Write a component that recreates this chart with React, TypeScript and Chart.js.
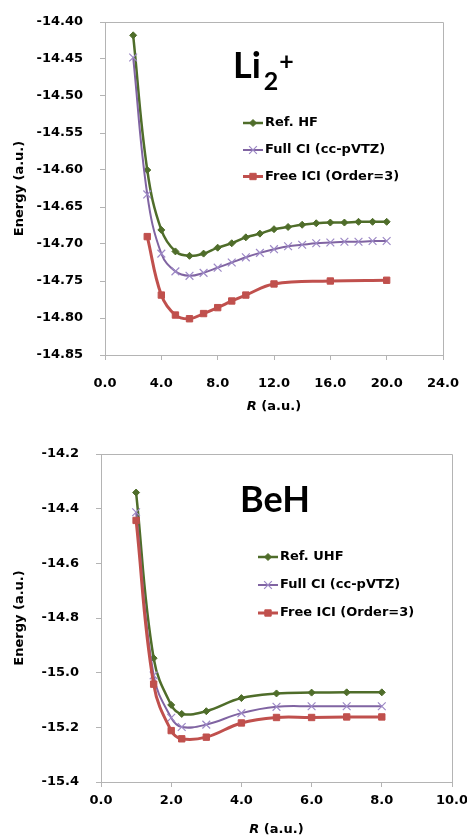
import React, { useEffect, useRef } from 'react';
import { Chart, registerables } from 'chart.js';

Chart.register(...registerables);

// ---------- Li2+ data ----------
const liR = [2, 3, 4, 5, 6, 7, 8, 9, 10, 11, 12, 13, 14, 15, 16, 17, 18, 19, 20];
const liRefHF = [-14.418, -14.600, -14.681, -14.710, -14.716, -14.713, -14.705, -14.699, -14.691, -14.686, -14.680, -14.677, -14.674, -14.672, -14.671, -14.671, -14.670, -14.670, -14.670];
const liFullCI = [-14.448, -14.633, -14.713, -14.737, -14.743, -14.739, -14.732, -14.725, -14.718, -14.712, -14.707, -14.703, -14.701, -14.699, -14.698, -14.697, -14.697, -14.696, -14.696];
const liIciR = [3, 4, 5, 6, 7, 8, 9, 10, 12, 16, 20];
const liFreeICI = [-14.690, -14.769, -14.796, -14.801, -14.794, -14.786, -14.777, -14.769, -14.754, -14.750, -14.749];

// ---------- BeH data ----------
const beR = [1.0, 1.5, 2.0, 2.3, 3.0, 4.0, 5.0, 6.0, 7.0, 8.0];
const beRefUHF = [-14.341, -14.947, -15.118, -15.151, -15.141, -15.093, -15.076, -15.073, -15.072, -15.072];
const beFullCI = [-14.413, -15.010, -15.165, -15.199, -15.190, -15.148, -15.125, -15.123, -15.123, -15.123];
const beFreeICI = [-14.443, -15.042, -15.212, -15.242, -15.236, -15.184, -15.164, -15.164, -15.162, -15.162];

// ---------- labels ----------
const liLegend = ['Ref. HF', 'Full CI (cc-pVTZ)', 'Free ICI (Order=3)'];
const beLegend = ['Ref. UHF', 'Full CI (cc-pVTZ)', 'Free ICI (Order=3)'];
const yTitle = 'Energy (a.u.)';
const xTitleItalic = 'R';
const xTitleRest = ' (a.u.)';

const GREEN = '#4f6d2a';
const PURPLE = '#8064a2';
const PURPLE_MK = '#9d89c6';
const RED = '#c0504d';
const AXIS = '#b4b4b4';
const FONT = 'DejaVu Sans';
const TITLE_FONT = 'Lato';

function makeDatasets(rA: number[], a: number[], rB: number[], b: number[], rC: number[], c: number[], names: string[]) {
  const pts = (r: number[], v: number[]) => r.map((x, i) => ({ x, y: v[i] }));
  return [
    {
      label: names[0], data: pts(rA, a), showLine: true, order: 2,
      borderColor: GREEN, borderWidth: 2.5, backgroundColor: GREEN,
      pointStyle: 'rectRot', pointRadius: 3.5, pointBackgroundColor: GREEN, pointBorderColor: GREEN, pointBorderWidth: 1,
      tension: 0.4,
    },
    {
      label: names[1], data: pts(rB, b), showLine: true, order: 1,
      borderColor: PURPLE, borderWidth: 2, backgroundColor: PURPLE,
      pointStyle: 'crossRot', pointRadius: 5.5, pointBackgroundColor: PURPLE_MK, pointBorderColor: PURPLE_MK, pointBorderWidth: 1.2,
      tension: 0.4,
    },
    {
      label: names[2], data: pts(rC, c), showLine: true, order: 0,
      borderColor: RED, borderWidth: 3, backgroundColor: RED,
      pointStyle: 'rect', pointRadius: 4.5, pointBackgroundColor: RED, pointBorderColor: RED, pointBorderWidth: 1,
      tension: 0.4,
    },
  ];
}

function drawMarker(ctx: CanvasRenderingContext2D, ds: any, x: number, y: number) {
  const r = ds.pointRadius;
  ctx.save();
  ctx.fillStyle = ds.pointBackgroundColor;
  ctx.strokeStyle = ds.pointBorderColor;
  ctx.lineWidth = ds.pointBorderWidth;
  ctx.beginPath();
  if (ds.pointStyle === 'rectRot') {
    ctx.moveTo(x, y - r); ctx.lineTo(x + r, y); ctx.lineTo(x, y + r); ctx.lineTo(x - r, y); ctx.closePath();
    ctx.fill(); ctx.stroke();
  } else if (ds.pointStyle === 'rect') {
    const s = r * Math.SQRT1_2;
    ctx.rect(x - s, y - s, 2 * s, 2 * s);
    ctx.fill(); ctx.stroke();
  } else {
    const d = r * Math.SQRT1_2;
    ctx.moveTo(x - d, y - d); ctx.lineTo(x + d, y + d);
    ctx.moveTo(x + d, y - d); ctx.lineTo(x - d, y + d);
    ctx.stroke();
  }
  ctx.restore();
}

const decoPlugin = {
  id: 'deco',
  afterDraw(chart: any, _args: any, opts: any) {
    const { ctx, chartArea: a } = chart;
    ctx.save();
    // plot-area frame (top & right)
    ctx.strokeStyle = AXIS;
    ctx.lineWidth = 1;
    ctx.beginPath();
    ctx.moveTo(Math.round(a.left) + 0.5, Math.round(a.top) + 0.5);
    ctx.lineTo(Math.round(a.right) + 0.5, Math.round(a.top) + 0.5);
    ctx.lineTo(Math.round(a.right) + 0.5, Math.round(a.bottom) + 0.5);
    ctx.stroke();

    // y axis title
    ctx.fillStyle = '#000';
    ctx.save();
    ctx.translate(opts.yTitleX, (a.top + a.bottom) / 2);
    ctx.rotate(-Math.PI / 2);
    ctx.font = `bold 13px "${FONT}"`;
    ctx.textAlign = 'center';
    ctx.textBaseline = 'middle';
    ctx.fillText(yTitle, 0, 0);
    ctx.restore();

    // x axis title with italic R
    ctx.textBaseline = 'middle';
    ctx.textAlign = 'left';
    ctx.font = `italic bold 13px "${FONT}"`;
    const w1 = ctx.measureText(xTitleItalic).width;
    ctx.font = `bold 13px "${FONT}"`;
    const w2 = ctx.measureText(xTitleRest).width;
    const sx = (a.left + a.right) / 2 - (w1 + w2) / 2;
    ctx.font = `italic bold 13px "${FONT}"`;
    ctx.fillText(xTitleItalic, sx, opts.xTitleY);
    ctx.font = `bold 13px "${FONT}"`;
    ctx.fillText(xTitleRest, sx + w1, opts.xTitleY);

    // big molecule label
    ctx.textBaseline = 'alphabetic';
    ctx.textAlign = 'left';
    let x = opts.molX;
    for (const part of opts.molParts) {
      ctx.font = `bold ${part.size}px "${TITLE_FONT}"`;
      x += part.dx || 0;
      ctx.fillText(part.text, x, opts.molY + (part.dy || 0));
      x += ctx.measureText(part.text).width;
    }

    // legend
    const dsets = chart.data.datasets;
    ctx.font = `bold 13px "${FONT}"`;
    ctx.textBaseline = 'middle';
    dsets.forEach((ds: any, i: number) => {
      const y = opts.legY[i];
      ctx.strokeStyle = ds.borderColor;
      ctx.lineWidth = ds.borderWidth;
      ctx.beginPath();
      ctx.moveTo(opts.legX, y);
      ctx.lineTo(opts.legX + 20, y);
      ctx.stroke();
      drawMarker(ctx, ds, opts.legX + 10, y);
      ctx.fillStyle = '#000';
      ctx.fillText(ds.label, opts.legX + 22, y);
    });
    ctx.restore();
  },
};

type PanelProps = {
  height: number;
  datasets: any[];
  xMax: number; xStep: number;
  yMin: number; yMax: number; yStep: number; yDec: number;
  yWidth: number; xHeight: number;
  padTop: number; padRight: number;
  xPad: number;
  deco: any;
};

function Panel(p: PanelProps) {
  const ref = useRef<HTMLCanvasElement>(null);
  useEffect(() => {
    if (!ref.current) return;
    const tickFont = { family: FONT, size: 13, weight: 'bold' as const };
    const chart = new Chart(ref.current, {
      type: 'scatter',
      data: { datasets: p.datasets as any },
      options: {
        responsive: false,
        animation: false,
        devicePixelRatio: 1,
        layout: { padding: { top: p.padTop, right: p.padRight, left: 0, bottom: 0 } },
        plugins: {
          legend: { display: false },
          tooltip: { enabled: false },
          deco: p.deco,
        } as any,
        scales: {
          x: {
            type: 'linear',
            position: 'bottom',
            min: 0, max: p.xMax,
            ticks: {
              stepSize: p.xStep, color: '#000', font: tickFont, padding: p.xPad, maxRotation: 0,
              callback: (v: any) => Number(v).toFixed(1),
            },
            grid: { display: true, drawOnChartArea: false, drawTicks: true, tickLength: 5, color: AXIS },
            border: { display: true, color: AXIS, width: 1 },
            afterFit: (s: any) => { s.height = p.xHeight; s.paddingLeft = 0; s.paddingRight = 0; },
          },
          y: {
            type: 'linear',
            min: p.yMin, max: p.yMax,
            ticks: {
              stepSize: p.yStep, color: '#000', font: tickFont, padding: 17,
              callback: (v: any) => Number(v).toFixed(p.yDec),
            },
            grid: { display: true, drawOnChartArea: false, drawTicks: true, tickLength: 5, color: AXIS },
            border: { display: true, color: AXIS, width: 1 },
            afterFit: (s: any) => { s.width = p.yWidth; s.paddingTop = 0; s.paddingBottom = 0; },
          },
        },
      } as any,
      plugins: [decoPlugin],
    });
    return () => chart.destroy();
  }, []);
  return <canvas ref={ref} width={467} height={p.height} style={{ display: 'block', width: 467, height: p.height }} />;
}

export default function App() {
  const liData = makeDatasets(liR, liRefHF, liR, liFullCI, liIciR, liFreeICI, liLegend);
  const beData = makeDatasets(beR, beRefUHF, beR, beFullCI, beR, beFreeICI, beLegend);
  return (
    <div style={{ position: 'absolute', left: 0, top: 0, width: 467, height: 839, background: '#fff' }}>
      <Panel
        height={420}
        datasets={liData}
        xMax={24} xStep={4}
        yMin={-14.85} yMax={-14.40} yStep={0.05} yDec={2}
        yWidth={105} xHeight={65}
        padTop={22} padRight={24}
        xPad={16}
        deco={{
          yTitleX: 20, xTitleY: 407,
          molX: 233, molY: 78,
          molParts: [
            { text: 'Li', size: 36 },
            { text: '2', size: 25, dx: 3, dy: 12 },
            { text: '+', size: 25, dx: 1, dy: -8 },
          ],
          legX: 243, legY: [123, 150, 176.5],
        }}
      />
      <Panel
        height={419}
        datasets={beData}
        xMax={10} xStep={2}
        yMin={-15.4} yMax={-14.2} yStep={0.2} yDec={1}
        yWidth={101} xHeight={57}
        padTop={34} padRight={15}
        xPad={6}
        deco={{
          yTitleX: 20, xTitleY: 410,
          molX: 240, molY: 92,
          molParts: [{ text: 'BeH', size: 36 }],
          legX: 258, legY: [137, 165, 193],
        }}
      />
    </div>
  );
}
